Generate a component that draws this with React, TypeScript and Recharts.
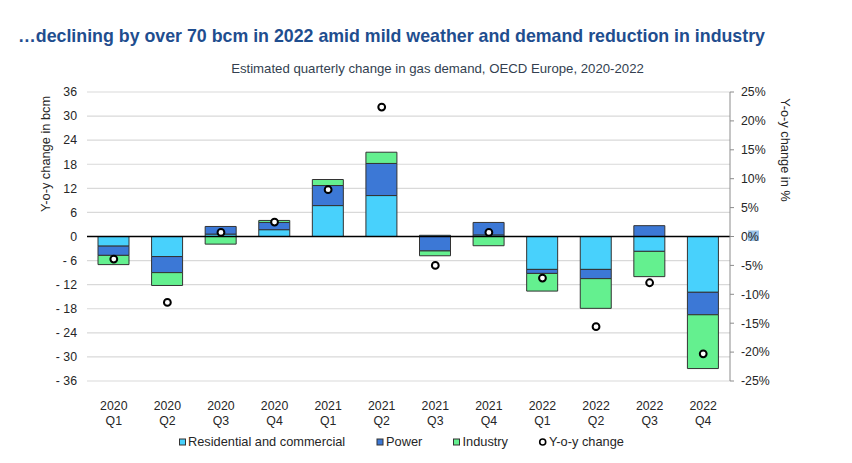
import React from 'react';
import { ComposedChart, Bar, Line, XAxis, YAxis, CartesianGrid, ReferenceLine } from 'recharts';

const years = ['2020', '2020', '2020', '2020', '2021', '2021', '2021', '2021', '2022', '2022', '2022', '2022'];
const quarters = ['Q1', 'Q2', 'Q3', 'Q4', 'Q1', 'Q2', 'Q3', 'Q4', 'Q1', 'Q2', 'Q3', 'Q4'];
const residential = [-2.4, -5.0, 0.6, 1.7, 7.7, 10.2, 0.3, 0.4, -8.2, -8.2, -3.7, -13.9];
const power = [-2.3, -4.0, 1.9, 1.8, 5.0, 8.0, -3.6, 3.1, -1.0, -2.3, 2.7, -5.6];
const industry = [-2.3, -3.2, -1.9, 0.5, 1.5, 2.8, -1.2, -2.3, -4.4, -7.4, -6.3, -13.4];
const yoyPct = [-3.9, -11.4, 0.7, 2.5, 8.1, 22.4, -5.0, 0.7, -7.2, -15.6, -8.0, -20.3];
const leftTicks = [-36, -30, -24, -18, -12, -6, 0, 6, 12, 18, 24, 30, 36];
const rightTicks = [-25, -20, -15, -10, -5, 0, 5, 10, 15, 20, 25];

const TITLE = '\u2026declining by over 70 bcm in 2022 amid mild weather and demand reduction in industry';
const SUBTITLE = 'Estimated quarterly change in gas demand, OECD Europe, 2020-2022';

const COLORS = { res: '#48D1FC', power: '#3C78D6', ind: '#64F08F' };
const FONT = '"Liberation Sans", Arial, sans-serif';
const TEXT = '#262626';

const data = years.map((y, i) => ({
  year: y,
  q: quarters[i],
  key: `${y} ${quarters[i]}`,
  res: residential[i],
  power: power[i],
  ind: industry[i],
  yoy: yoyPct[i],
}));

const fmtLeft = (v: number) => (v < 0 ? `- ${Math.abs(v)}` : `${v}`);
const fmtRight = (v: number) => `${v}%`;

const LeftTick = (props: any) => {
  const { y, payload } = props;
  return (
    <text x={77} y={y} dy={4.3} textAnchor="end" fontSize={12.3} fill={TEXT} fontFamily={FONT}>
      {fmtLeft(payload.value)}
    </text>
  );
};

const RightTick = (props: any) => {
  const { y, payload } = props;
  return (
    <g>
      {payload.value === 0 && <rect x={748} y={230.5} width={11} height={10.5} fill="#9DC3E6" />}
      <text x={741} y={y} dy={4.3} textAnchor="start" fontSize={12.3} fill={TEXT} fontFamily={FONT}>
        {fmtRight(payload.value)}
      </text>
    </g>
  );
};

const XTick = (props: any) => {
  const { x, y, index } = props;
  return (
    <text textAnchor="middle" fontSize={12.3} fill={TEXT} fontFamily={FONT}>
      <tspan x={x} y={y + 21}>{years[index]}</tspan>
      <tspan x={x} y={y + 36}>{quarters[index]}</tspan>
    </text>
  );
};

export default function App() {
  return (
    <div style={{ position: 'absolute', left: 0, top: 0, width: 852, height: 463, background: '#fff' }}>
      <ComposedChart
        width={852}
        height={463}
        data={data}
        stackOffset="sign"
        margin={{ top: 92, right: 0, bottom: 42, left: 0 }}
      >
        <CartesianGrid yAxisId="left" vertical={false} stroke="#d9d9d9" strokeWidth={1.2} />
        <XAxis
          dataKey="key"
          height={40}
          axisLine={false}
          tickLine={false}
          tick={<XTick />}
          interval={0}
        />
        <YAxis
          yAxisId="left"
          orientation="left"
          width={87}
          domain={[-36, 36]}
          ticks={leftTicks}
          axisLine={false}
          tickLine={false}
          tick={<LeftTick />}
          interval={0}
        />
        <YAxis
          yAxisId="right"
          orientation="right"
          width={122}
          domain={[-25, 25]}
          ticks={rightTicks}
          axisLine={{ stroke: '#8c8c8c', strokeWidth: 1 }}
          tickLine={{ stroke: '#8c8c8c', strokeWidth: 1 }}
          tickSize={4}
          tick={<RightTick />}
          interval={0}
        />
        <Bar yAxisId="left" dataKey="res" stackId="a" fill={COLORS.res} stroke="#333" strokeWidth={1} barSize={31} isAnimationActive={false} />
        <Bar yAxisId="left" dataKey="power" stackId="a" fill={COLORS.power} stroke="#333" strokeWidth={1} barSize={31} isAnimationActive={false} />
        <Bar yAxisId="left" dataKey="ind" stackId="a" fill={COLORS.ind} stroke="#333" strokeWidth={1} barSize={31} isAnimationActive={false} />
        <ReferenceLine yAxisId="left" y={0} stroke="#000" strokeWidth={1.3} />
        <Line
          yAxisId="right"
          dataKey="yoy"
          stroke="none"
          strokeWidth={0}
          dot={{ r: 3.4, fill: '#fff', stroke: '#000', strokeWidth: 2 }}
          activeDot={false}
          isAnimationActive={false}
        />
      </ComposedChart>
      <svg
        width={852}
        height={463}
        style={{ position: 'absolute', left: 0, top: 0, pointerEvents: 'none' }}
        fontFamily={FONT}
      >
        <text x={18} y={42} fontSize={17.8} fontWeight="bold" fill="#1F4E8F">{TITLE}</text>
        <text x={437.5} y={72.5} fontSize={13.2} fill="#333F50" textAnchor="middle">{SUBTITLE}</text>
        <text transform="translate(49.5,154) rotate(-90)" textAnchor="middle" fontSize={12.8} fill={TEXT}>Y-o-y change in bcm</text>
        <text transform="translate(780.5,150) rotate(90)" textAnchor="middle" fontSize={12.8} fill={TEXT}>Y-o-y change in %</text>
        <g fontSize={12.8} fill={TEXT}>
          <rect x={179.5} y={439} width={6} height={6} fill={COLORS.res} stroke="#333" strokeWidth={1} />
          <text x={188} y={446}>Residential and commercial</text>
          <rect x={377} y={439} width={6} height={6} fill={COLORS.power} stroke="#333" strokeWidth={1} />
          <text x={386} y={446}>Power</text>
          <rect x={453.5} y={439} width={6} height={6} fill={COLORS.ind} stroke="#333" strokeWidth={1} />
          <text x={462.5} y={446}>Industry</text>
          <circle cx={542.7} cy={442} r={3} fill="#fff" stroke="#000" strokeWidth={1.6} />
          <text x={549} y={446}>Y-o-y change</text>
        </g>
      </svg>
    </div>
  );
}
